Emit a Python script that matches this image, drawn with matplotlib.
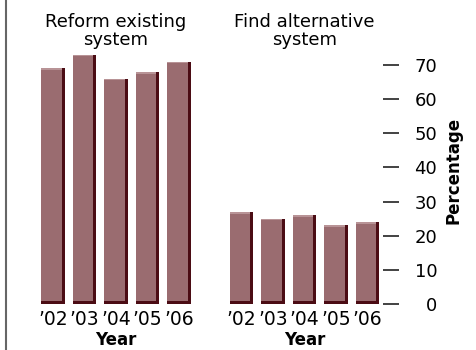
import matplotlib.pyplot as plt
import numpy as np

years = ['\u201902', '\u201903', '\u201904', '\u201905', '\u201906']
reform = [69, 73, 66, 68, 71]
alternative = [27, 25, 26, 23, 24]
titles = ['Reform existing\nsystem', 'Find alternative\nsystem']
yticks = [0, 10, 20, 30, 40, 50, 60, 70]

plt.rcParams['font.family'] = ['DejaVu Sans']

main_col = '#9a6c70'
dark_col = '#4b0c14'
light_col = '#b89396'

fig = plt.figure(figsize=(4.76, 3.5), dpi=100)

# pixel geometry of the axes
y0 = (350 - 304) / 350
h = 75 * 3.414 / 350
w = 157.5 / 476
ax1 = fig.add_axes([37.25 / 476, y0, w, h])
ax2 = fig.add_axes([225.75 / 476, y0, w, h])

x = np.arange(len(years))
bw = 0.66
sh = 0.1
for ax, vals, title in [(ax1, reform, titles[0]), (ax2, alternative, titles[1])]:
    vals = np.array(vals)
    ax.bar(x - sh / 2, vals, width=bw, color=main_col, zorder=2)
    # right shadow strip
    ax.bar(x + bw / 2, vals, width=sh, color=dark_col, zorder=3)
    # bottom strip
    ax.bar(x, 0.9, width=bw + sh, color=dark_col, zorder=3)
    # top highlight
    ax.bar(x - sh / 2, 0.5, bottom=vals - 0.5, width=bw, color=light_col, zorder=3)
    ax.set_xlim(-0.5, len(years) - 0.5)
    ax.set_ylim(0, 75)
    ax.set_xticks(x)
    ax.set_xticklabels(years, fontsize=13.5)
    ax.tick_params(axis='x', length=0, pad=4)
    ax.set_xlabel('Year', fontsize=12, fontweight='bold', labelpad=2)
    for s in ax.spines.values():
        s.set_visible(False)
    ax.text(0.5, 0.995, title, transform=ax.transAxes, ha='center', va='bottom',
            fontsize=13, linespacing=1.0)

ax1.set_yticks([])
ax2.yaxis.tick_right()
ax2.set_yticks(yticks)
ax2.set_yticklabels([str(t) for t in yticks], fontsize=13, ha='right')
ax2.tick_params(axis='y', direction='out', length=11.5, width=1.2, pad=27.4, color='#222222')

fig.text(453 / 476, 1 - 170 / 350, 'Percentage', rotation=90, ha='center', va='center',
         fontsize=12, fontweight='bold')

fig.add_artist(plt.Line2D([6 / 476, 6 / 476], [0, 1], color='#666666', lw=1.5))

fig.savefig('out.png', dpi=100)
